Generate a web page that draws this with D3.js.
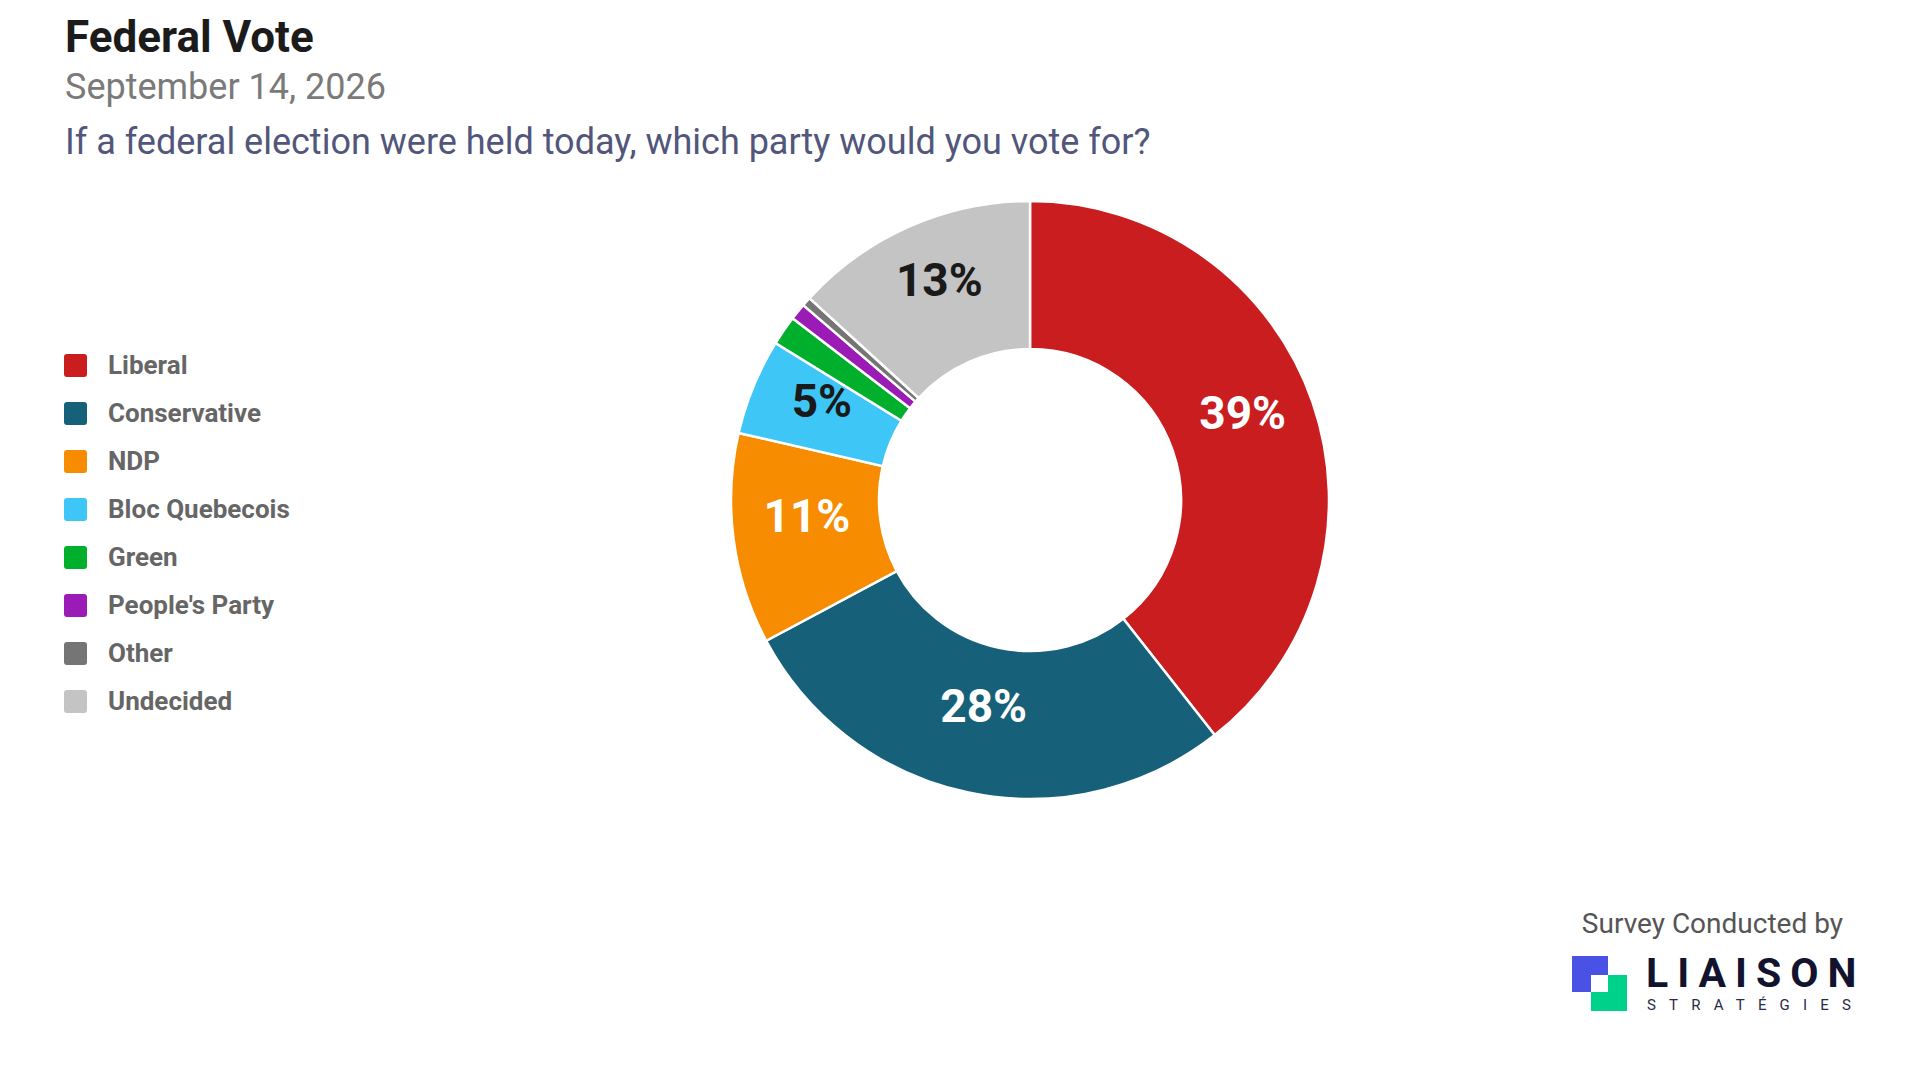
<!DOCTYPE html>
<html>
<head>
<meta charset="utf-8">
<script src="https://cdn.jsdelivr.net/npm/d3@7"></script>
<style>
  html, body { margin: 0; padding: 0; background: #fff; }
  svg { display: block; font-family: Roboto, "Noto Sans", sans-serif; }
</style>
</head>
<body>
<svg id="chart" width="1920" height="1080"></svg>
<script>
const parties = ["Liberal", "Conservative", "NDP", "Bloc Quebecois", "Green", "People's Party", "Other", "Undecided"];
const shares = [39.4, 27.8, 11.4, 5.2, 1.6, 0.9, 0.5, 13.2];
const partyColors = ["#C91D1F", "#176079", "#F88C00", "#3EC7F6", "#00AF2C", "#9A1BB5", "#757575", "#C4C4C4"];
const labelColors = ["#ffffff", "#ffffff", "#ffffff", "#1a1a1a", "#1a1a1a", "#1a1a1a", "#1a1a1a", "#1a1a1a"];

const title = "Federal Vote";
const dateLine = "September 14, 2026";
const question = "If a federal election were held today, which party would you vote for?";

const svg = d3.select("#chart");

// Header
svg.append("text").attr("x", 65).attr("y", 52)
  .attr("font-size", 44).attr("font-weight", 700).attr("fill", "#1b1b1b")
  .text(title);
svg.append("text").attr("x", 65).attr("y", 99)
  .attr("font-size", 36).attr("fill", "#7a7a7a")
  .text(dateLine);
svg.append("text").attr("x", 65).attr("y", 154)
  .attr("font-size", 36).attr("fill", "#51567a")
  .text(question);

// Donut
const cx = 1030, cy = 500;
const pie = d3.pie().sort(null).value(d => d.v)
  .startAngle(0).endAngle(2 * Math.PI);
const data = parties.map((p, i) => ({ name: p, v: shares[i], color: partyColors[i], lc: labelColors[i] }));
const arcs = pie(data);
const arc = d3.arc().innerRadius(151).outerRadius(299);

const g = svg.append("g").attr("transform", `translate(${cx},${cy})`);
g.selectAll("path.slice").data(arcs).enter().append("path")
  .attr("class", "slice")
  .attr("d", arc)
  .attr("fill", d => d.data.color)
  .attr("stroke", "#fff")
  .attr("stroke-width", 2.5);

g.selectAll("text.lbl").data(arcs.filter(d => d.data.v >= 3)).enter().append("text")
  .attr("class", "lbl")
  .attr("transform", d => `translate(${arc.centroid(d)})`)
  .attr("text-anchor", "middle")
  .attr("dy", "0.05em")
  .attr("font-size", 46).attr("font-weight", 700)
  .attr("fill", d => d.data.lc)
  .text(d => Math.round(d.data.v) + "%");

// Legend
const legend = svg.append("g").attr("transform", "translate(64,365)");
const rowH = 48;
const items = legend.selectAll("g.item").data(data).enter().append("g")
  .attr("class", "item")
  .attr("transform", (d, i) => `translate(0,${i * rowH})`);
items.append("rect").attr("x", 0).attr("y", -11).attr("width", 23).attr("height", 23)
  .attr("rx", 3).attr("fill", d => d.color);
items.append("text").attr("x", 44).attr("y", 0).attr("dy", "0.36em")
  .attr("font-size", 26).attr("font-weight", 700).attr("fill", "#666666")
  .text(d => d.name);

// Credit / logo
svg.append("text").attr("x", 1843).attr("y", 933).attr("text-anchor", "end")
  .attr("font-size", 28).attr("fill", "#555555")
  .text("Survey Conducted by");
const logo = svg.append("g");
logo.append("rect").attr("x", 1572).attr("y", 956).attr("width", 36).attr("height", 36).attr("fill", "#4A52E6");
logo.append("rect").attr("x", 1591).attr("y", 975).attr("width", 36).attr("height", 36).attr("fill", "#00D18A");
logo.append("rect").attr("x", 1591).attr("y", 975).attr("width", 17).attr("height", 17).attr("fill", "#ffffff");
logo.append("text").attr("x", 1646).attr("y", 987)
  .attr("font-size", 41).attr("font-weight", 700).attr("fill", "#12132E")
  .attr("letter-spacing", 9)
  .text("LIAISON");
logo.append("text").attr("x", 1647).attr("y", 1010)
  .attr("font-size", 15).attr("fill", "#2A2B45")
  .attr("letter-spacing", 13.2)
  .text("STRATÉGIES");
</script>
</body>
</html>
